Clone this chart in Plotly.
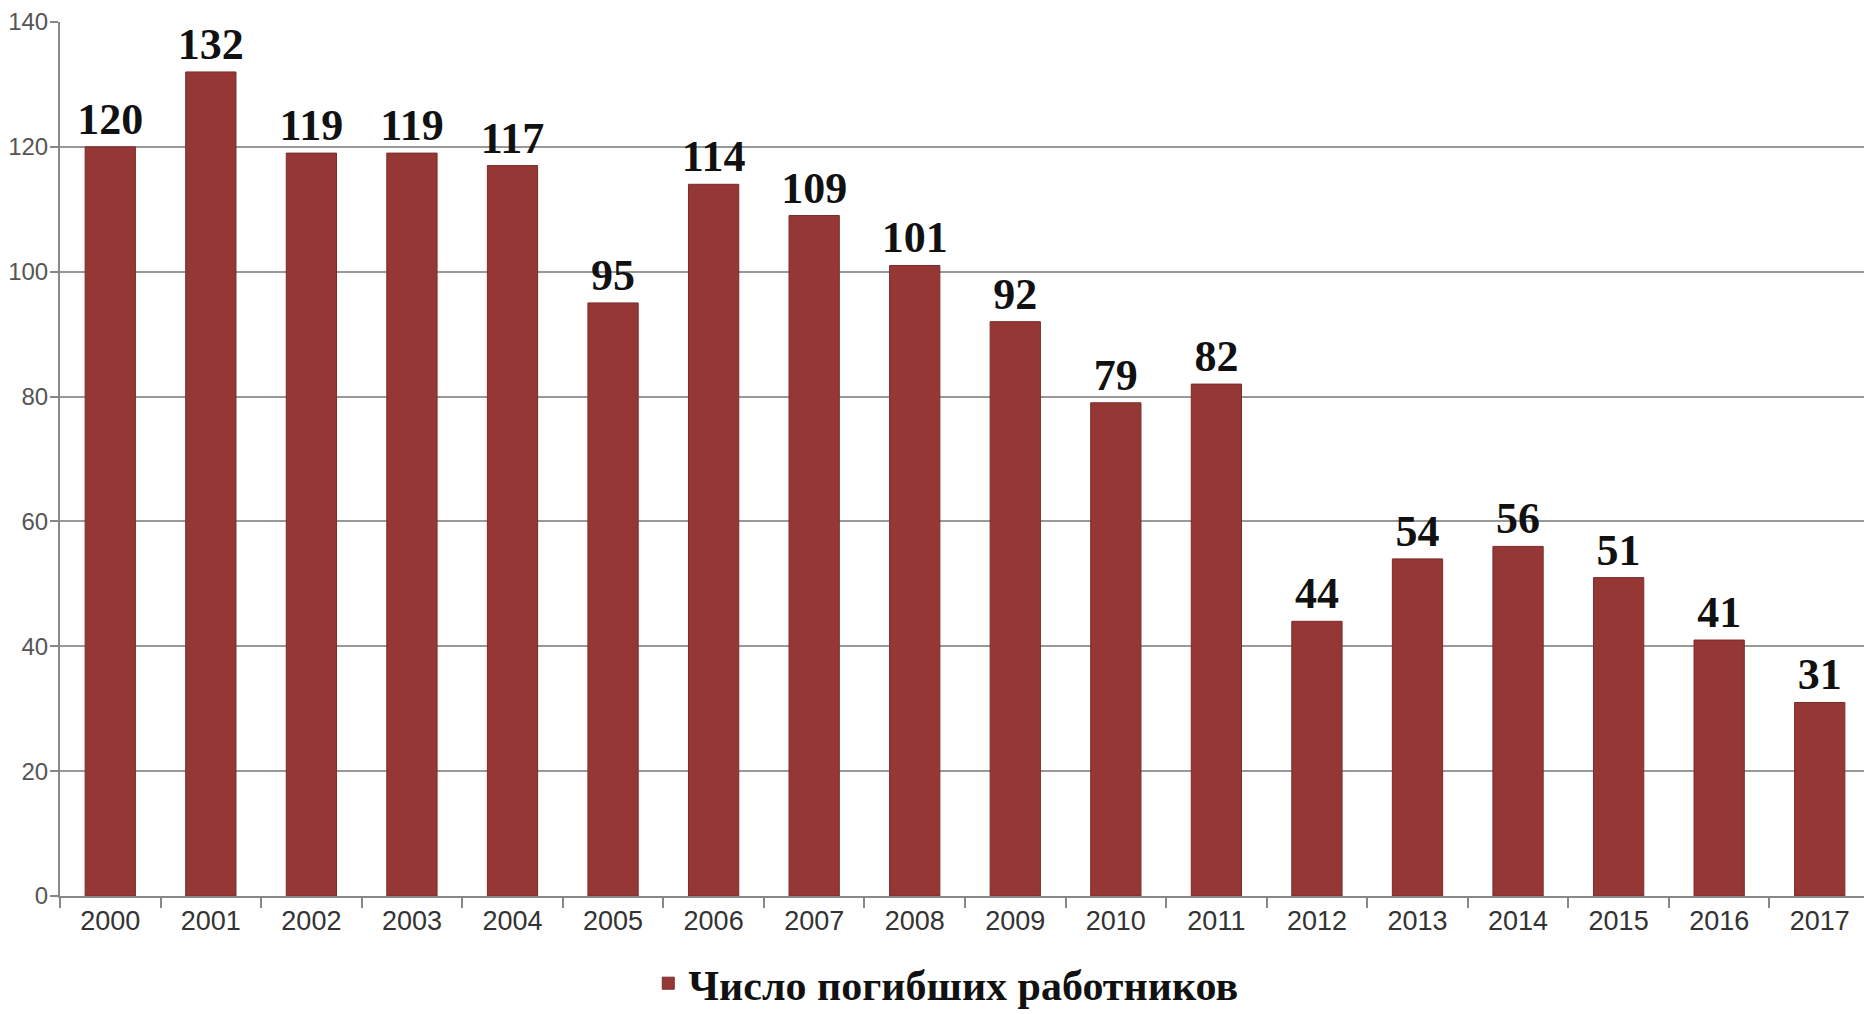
import plotly.graph_objects as go

years = [str(y) for y in range(2000, 2018)]
deaths = [120, 132, 119, 119, 117, 95, 114, 109, 101, 92, 79, 82, 44, 54, 56, 51, 41, 31]
series_name = "Число погибших работников"
y_ticks = [0, 20, 40, 60, 80, 100, 120, 140]

fig = go.Figure()
fig.add_trace(go.Bar(
    x=years, y=deaths, name="<b>" + series_name + "</b>",
    marker=dict(color="#953735", line=dict(color="#7a2c2a", width=1)),
    width=0.5,
    text=[str(v) for v in deaths], textposition="outside",
    textfont=dict(family="Liberation Serif", size=44, color="#111111"),
    texttemplate="<b>%{text}</b>",
    constraintext="none",
    cliponaxis=False,
    showlegend=True,
))

# the page body adds an 8px offset, so the figure is 8px smaller and margins are compensated
fig.update_layout(
    width=1864, height=1006,
    margin=dict(l=52, r=2, t=14, b=118, autoexpand=False),
    plot_bgcolor="white", paper_bgcolor="white",
    font=dict(family="Liberation Sans", size=27, color="#444444"),
    showlegend=True,
    legend=dict(
        orientation="h", x=0.325, xanchor="left", y=-0.1, yanchor="middle",
        font=dict(family="Liberation Serif", size=42, color="#111111"),
        itemwidth=30, borderwidth=0, tracegroupgap=0,
    ),
    xaxis=dict(
        type="category", showline=True, linecolor="#888888", linewidth=2,
        ticks="outside", ticklen=10, tickcolor="#888888", tickwidth=2,
        tickson="boundaries", showgrid=False,
        tickfont=dict(family="Liberation Sans", size=27, color="#333333"),
    ),
    yaxis=dict(
        range=[0, 140], tickvals=y_ticks, showline=True, linecolor="#888888", linewidth=2,
        ticks="outside", ticklen=8, tickcolor="#888888", tickwidth=2,
        ticklabelstandoff=-3, ticklabeloverflow="allow",
        showgrid=True, gridcolor="#999999", gridwidth=2, zeroline=False,
        tickfont=dict(family="Liberation Sans", size=24, color="#555555"),
    ),
)

fig.write_html("out.html")
